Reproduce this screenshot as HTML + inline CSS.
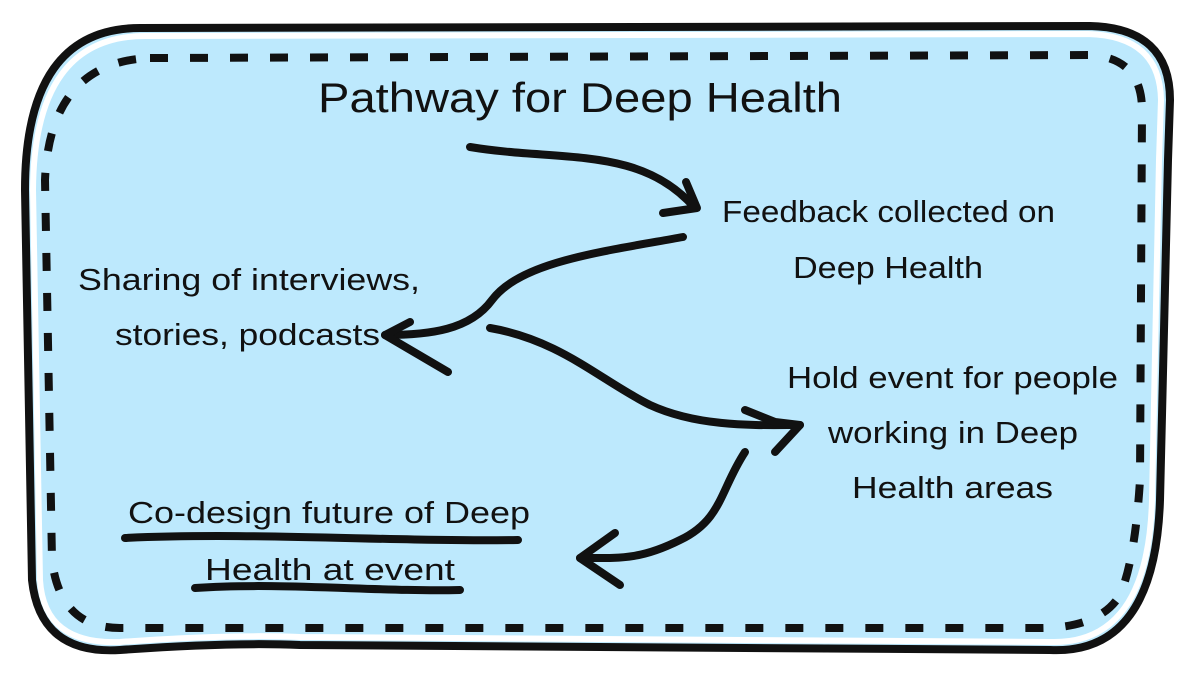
<!DOCTYPE html>
<html><head><meta charset="utf-8"><style>
html,body{margin:0;padding:0;background:#fff;}
svg{display:block;}
text{font-family:"Liberation Sans",sans-serif;fill:#111;}
</style></head><body>
<svg width="1200" height="675" viewBox="0 0 1200 675" xmlns="http://www.w3.org/2000/svg">
<path d="M140,28 L1090,26 Q1170,28 1170,100 L1168,160 L1160,500 Q1155,655 1050,650 L300,645 Q230,642 120,650 Q40,655 32,580 L25,190 Q25,28 140,28 Z" fill="#bde9fd" stroke="#111" stroke-width="8"/>
<path d="M145,36 L1088,34 Q1160,36 1161,100 L1159,160 L1152,500 Q1148,645 1050,642 L300,637 Q230,634 120,642 Q44,645 40,580 L33,190 Q34,36 145,36 Z" fill="none" stroke="#fff" stroke-width="6"/>
<path d="M150,58 L1090,55 Q1142,58 1142,110 L1140,480 Q1135,560 1120,595 Q1100,628 1040,628 L120,628 Q60,628 52,560 L45,180 Q50,62 150,58 Z" fill="none" stroke="#111" stroke-width="8" stroke-dasharray="18,22"/>
<g font-size="31">
<text x="318" y="112" font-size="42" textLength="524" lengthAdjust="spacingAndGlyphs">Pathway for Deep Health</text>
<text x="722" y="222" textLength="333" lengthAdjust="spacingAndGlyphs">Feedback collected on</text>
<text x="793" y="278" textLength="190" lengthAdjust="spacingAndGlyphs">Deep Health</text>
<text x="78" y="290" textLength="342" lengthAdjust="spacingAndGlyphs">Sharing of interviews,</text>
<text x="115" y="345" textLength="265" lengthAdjust="spacingAndGlyphs">stories, podcasts</text>
<text x="787" y="388" textLength="331" lengthAdjust="spacingAndGlyphs">Hold event for people</text>
<text x="828" y="443" textLength="250" lengthAdjust="spacingAndGlyphs">working in Deep</text>
<text x="852" y="498" textLength="201" lengthAdjust="spacingAndGlyphs">Health areas</text>
<text x="128" y="523" textLength="402" lengthAdjust="spacingAndGlyphs">Co-design future of Deep</text>
<text x="205" y="580" textLength="250" lengthAdjust="spacingAndGlyphs">Health at event</text>
</g>
<g fill="none" stroke="#111" stroke-width="8" stroke-linecap="round" stroke-linejoin="round">
<path d="M470,147 C560,162 640,145 695,208"/>
<path d="M686,182 L697,208 L663,213"/>
<path d="M683,237 C600,252 520,262 492,300 C470,330 430,335 385,335"/>
<path d="M410,322 L385,335 L448,372"/>
<path d="M490,328 C560,340 600,380 650,405 C700,428 760,425 800,425"/>
<path d="M745,410 L775,422 L800,425 L775,452"/>
<path d="M745,452 C720,490 722,520 680,540 C640,560 620,558 580,558"/>
<path d="M615,533 L580,558 L620,585"/>
<path d="M125,538 C250,532 400,542 518,540"/>
<path d="M195,588 C280,582 380,592 460,590"/>
</g>
</svg>
</body></html>
